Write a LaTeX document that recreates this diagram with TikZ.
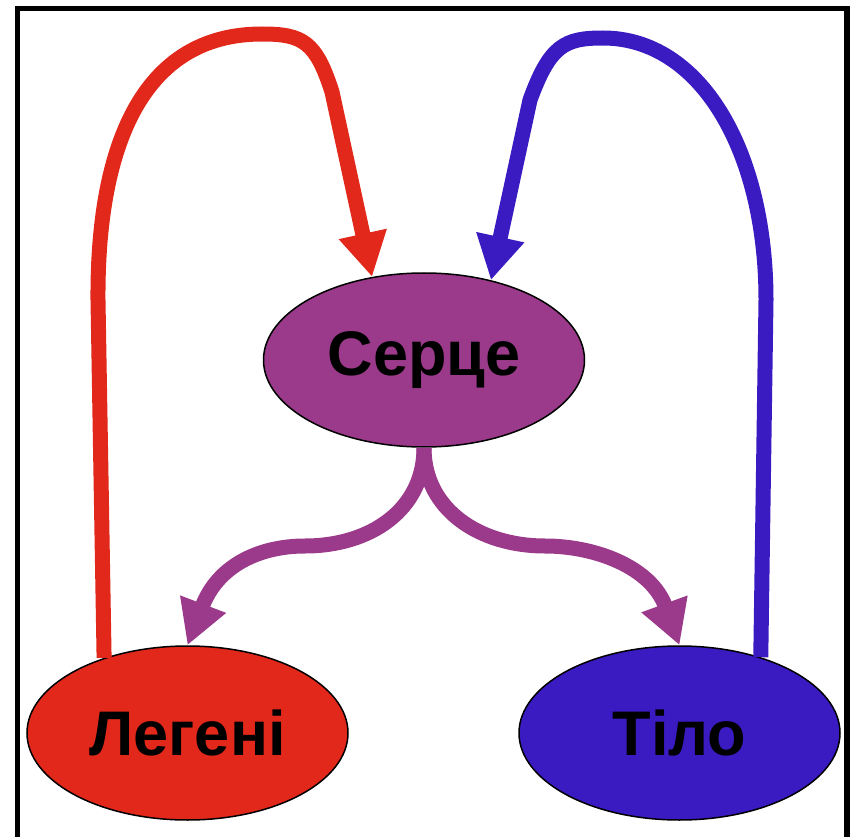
\documentclass[tikz,border=0pt]{standalone}
\usepackage{fontspec}
\setmainfont{Liberation Sans}
\usetikzlibrary{arrows.meta}
\usetikzlibrary{shapes.geometric}
\definecolor{lungred}{HTML}{E2281A}
\definecolor{heartpurple}{HTML}{9B3A8A}
\definecolor{bodyblue}{HTML}{3A1AC1}

\begin{document}
\begin{tikzpicture}[x=1pt,y=-1pt,
	organ/.style={ellipse,draw=black,line width=1.5pt,minimum width=321pt,minimum height=174pt,inner sep=0pt,font=\fontsize{63}{70}\selectfont\bfseries},
	flow/.style={line width=15pt,-{Triangle[length=44pt,width=46pt]}}]
	\useasboundingbox (0,0) rectangle (852,837);
	\draw[line width=5.5pt] (17.5,860) -- (17.5,8.5) -- (847,8.5) -- (847,860);
	\node[organ,fill=heartpurple] (heart) at (424,360) {Серце};
	\node[organ,fill=lungred] (lungs) at (187.5,733) {Легені};
	\node[organ,fill=bodyblue] (body) at (679.5,733) {Тіло};
	% lungs -> heart
	\draw[flow,lungred] (lungs.138) -- (98,300) .. controls (97,150) and (140,34) .. (262,34) .. controls (303,34) and (316,42) .. (332,92) -- (heart.122);
	% body -> heart
	\draw[flow,bodyblue] (body.43) -- (766,300) .. controls (766,150) and (700,38) .. (603,38) .. controls (565,38) and (550,45) .. (530,100) -- (heart.50);
	% heart -> lungs, heart -> body
	\draw[flow,heartpurple] (heart.south) .. controls (424,510) and (370,546) .. (305,546) .. controls (260,546) and (218,565) .. (lungs.north);
	\draw[flow,heartpurple] (heart.south) .. controls (424,510) and (480,546) .. (545,546) .. controls (595,546) and (651,567) .. (body.north);
\end{tikzpicture}
\end{document}
